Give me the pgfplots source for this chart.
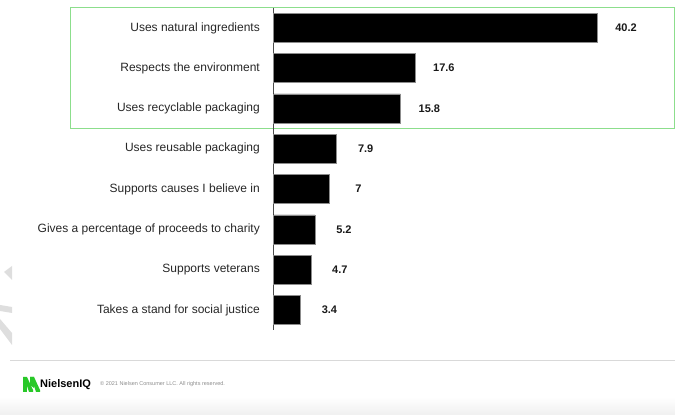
\documentclass[border=0pt]{standalone}
\usepackage{pgfplots}
\pgfplotsset{compat=1.18}
\usepackage{fontspec}
\setmainfont{Liberation Sans}
\definecolor{nqgreen}{RGB}{140,222,140}
\definecolor{logogreen}{RGB}{40,200,40}
\begin{document}
\begin{tikzpicture}[x=1pt,y=1pt]
\path[use as bounding box] (0,0) rectangle (675,415);
\shade[top color=white,bottom color=black!6] (0,0) rectangle (675,18);
\draw[black!15,line width=1pt] (10,54) -- (675,54);
% faint watermark fragments
\fill[black!13] (12,149) -- (4,143) -- (12,135) -- cycle;
\fill[black!13] (0,110) -- (12,108) -- (12,102) -- (0,104) -- cycle;
\fill[black!13] (0,96) -- (12,82) -- (12,70) -- (0,86) -- cycle;
% green box
\draw[nqgreen,line width=1pt] (70,286) rectangle (674.5,407);
\begin{axis}[
  at={(273pt,84.85pt)}, anchor=south west,
  scale only axis, width=403pt, height=322.4pt,
  xmin=0, xmax=50, ymin=-0.5, ymax=7.5, y dir=reverse,
  xbar, bar width=29pt, bar shift=0pt,
  axis x line=none, axis y line=left,
  y axis line style={-, draw=black!70, line width=0.6pt},
  ytick={0,...,7}, major tick length=0pt,
  yticklabels={Uses natural ingredients,Respects the environment,Uses recyclable packaging,Uses reusable packaging,Supports causes I believe in,Gives a percentage of proceeds to charity,Supports veterans,Takes a stand for social justice},
  yticklabel style={font=\fontsize{12}{14}\selectfont, text=black!85, inner sep=0pt, anchor=east, xshift=-13pt},
  clip=false,
  nodes near coords,
  point meta=explicit symbolic,
  every node near coord/.append style={font=\fontsize{11}{13}\selectfont\bfseries, text=black!90, anchor=center, xshift=29pt},
]
\addplot[fill=black, draw=black!45, line width=0.4pt] coordinates {
 (40.2,0) [40.2]
 (17.6,1) [17.6]
 (15.8,2) [15.8]
 (7.9,3) [7.9]
 (7,4) [7]
 (5.2,5) [5.2]
 (4.7,6) [4.7]
 (3.4,7) [3.4]
};
\end{axis}
% logo
\fill[logogreen] (23,38) -- (27,38) -- (33,25) -- (33,23) -- (29,23) -- (27,29) -- (27,33) -- (23,33) -- cycle;
\fill[logogreen] (23,38) -- (27,38) -- (27,23) -- (23,23) -- cycle;
\fill[logogreen] (30,38) -- (34,38) -- (40,25) -- (40,23) -- (36,23) -- (34,29) -- (34,33) -- (30,33) -- cycle;
\fill[logogreen] (30,38) -- (34,38) -- (34,27) -- (30,30) -- cycle;
\node[anchor=west,inner sep=0pt,font=\fontsize{11}{12}\selectfont\bfseries] at (40,30.5) {NielsenIQ};
\node[anchor=west,inner sep=0pt,font=\fontsize{5.5}{6}\selectfont,text=black!45] at (100,31) {\textcopyright{} 2021 Nielsen Consumer LLC. All rights reserved.};
\end{tikzpicture}
\end{document}
